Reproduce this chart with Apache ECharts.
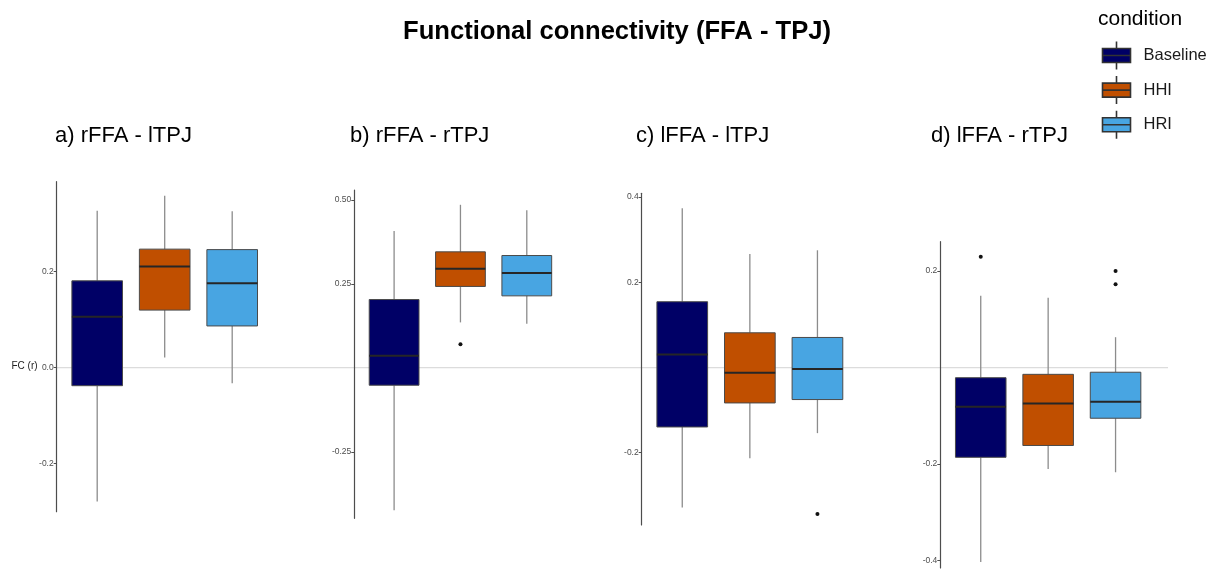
<!DOCTYPE html>
<html>
<head>
<meta charset="utf-8">
<script src="https://cdn.jsdelivr.net/npm/echarts@6/dist/echarts.min.js"></script>
<style>html,body{margin:0;padding:0;background:#fff}#c{width:1218px;height:571px}</style>
</head>
<body>
<div id="c"></div>
<script>
// ---- data ----
const conditions = ['Baseline', 'HHI', 'HRI'];
const panelTitles = ['a) rFFA - lTPJ', 'b) rFFA - rTPJ', 'c) lFFA - lTPJ', 'd) lFFA - rTPJ'];
// each row: [lower whisker, Q1, median, Q3, upper whisker]
const rFFA_lTPJ = [[-0.279, -0.0375, 0.106, 0.181, 0.327], [0.021, 0.120, 0.211, 0.247, 0.358], [-0.0325, 0.087, 0.176, 0.246, 0.326]];
const rFFA_rTPJ = [[-0.423, -0.051, 0.037, 0.204, 0.408], [0.136, 0.243, 0.296, 0.346, 0.486], [0.132, 0.215, 0.283, 0.335, 0.470]];
const lFFA_lTPJ = [[-0.330, -0.1405, 0.030, 0.154, 0.374], [-0.214, -0.084, -0.013, 0.081, 0.266], [-0.155, -0.076, -0.004, 0.070, 0.275]];
const lFFA_rTPJ = [[-0.403, -0.186, -0.081, -0.021, 0.149], [-0.210, -0.1615, -0.0745, -0.014, 0.145], [-0.217, -0.105, -0.071, -0.0096, 0.063]];
const out_rFFA_lTPJ = [[], [], []];
const out_rFFA_rTPJ = [[], [0.071], []];
const out_lFFA_lTPJ = [[], [], [-0.345]];
const out_lFFA_rTPJ = [[0.230], [], [0.200, 0.173]];
const ticks_a = [-0.2, 0.0, 0.2];
const ticks_b = [-0.25, 0.25, 0.50];
const ticks_c = [-0.2, 0.2, 0.4];
const ticks_d = [-0.4, -0.2, 0.2];
const zeroLine = [[0, 0], [1, 0]];

const panelStats = [rFFA_lTPJ, rFFA_rTPJ, lFFA_lTPJ, lFFA_rTPJ];
const panelOutliers = [out_rFFA_lTPJ, out_rFFA_rTPJ, out_lFFA_lTPJ, out_lFFA_rTPJ];
const panelTicks = [ticks_a, ticks_b, ticks_c, ticks_d];
const panelDecimals = [1, 2, 1, 1];

// ---- styles / layout ----
const colors = ['#000066', '#C04F00', '#48A5E2'];
const FONT = 'Liberation Sans, Arial, Helvetica, sans-serif';
const grids = [
  {left: 56.7, width: 216.0, top: 181.7, height: 330.0, min: -0.300, max: 0.3875},
  {left: 354.3, width: 212.3, top: 190.0, height: 328.3, min: -0.447, max: 0.530},
  {left: 641.7, width: 216.3, top: 193.3, height: 331.7, min: -0.371, max: 0.409},
  {left: 940.3, width: 215.7, top: 241.7, height: 326.3, min: -0.4155, max: 0.261}
];
const titleLefts = [55, 350, 636, 931];

function makeRender(outliers) {
  return function (params, api) {
    const x = api.value(0);
    const lo = api.coord([x, api.value(1)]);
    const q1 = api.coord([x, api.value(2)]);
    const med = api.coord([x, api.value(3)]);
    const q3 = api.coord([x, api.value(4)]);
    const hi = api.coord([x, api.value(5)]);
    const w = api.size([0.75, 0])[0];
    const cx = q1[0];
    const wh = {stroke: '#8c8c8c', lineWidth: 1.3};
    const children = [
      {type: 'line', shape: {x1: cx, y1: hi[1], x2: cx, y2: q3[1]}, style: wh},
      {type: 'line', shape: {x1: cx, y1: q1[1], x2: cx, y2: lo[1]}, style: wh},
      {type: 'rect', shape: {x: cx - w / 2, y: q3[1], width: w, height: q1[1] - q3[1]},
        style: {fill: api.visual('color'), stroke: '#4a4a4a', lineWidth: 1}},
      {type: 'line', shape: {x1: cx - w / 2, y1: med[1], x2: cx + w / 2, y2: med[1]},
        style: {stroke: '#262626', lineWidth: 2}}
    ];
    outliers.forEach(function (v) {
      const p = api.coord([x, v]);
      children.push({type: 'circle', shape: {cx: p[0], cy: p[1], r: 2}, style: {fill: '#111'}});
    });
    return {type: 'group', children: children};
  };
}

const gridOpt = [], xAxes = [], yAxes = [], series = [];
grids.forEach(function (g, p) {
  gridOpt.push({left: g.left, top: g.top, width: g.width, height: g.height});
  xAxes.push({type: 'value', gridIndex: p, min: 0.4, max: 3.6, show: false});
  const ticks = panelTicks[p];
  const dec = panelDecimals[p];
  yAxes.push({
    type: 'value', gridIndex: p, min: g.min, max: g.max, z: 3,
    axisLine: {show: true, onZero: false, lineStyle: {color: '#4d4d4d', width: 1.2}},
    axisTick: {show: true, customValues: ticks, length: 3, lineStyle: {color: '#4d4d4d', width: 1}},
    axisLabel: {customValues: ticks, formatter: function (v) { return Number(v).toFixed(dec); },
      fontSize: 8.5, color: '#4d4d4d', margin: 3, fontFamily: FONT},
    splitLine: {show: false}
  });
  conditions.forEach(function (c, ci) {
    const s = panelStats[p][ci];
    series.push({
      name: c, type: 'custom', xAxisIndex: p, yAxisIndex: p, z: 2,
      itemStyle: {color: colors[ci], borderColor: '#333', borderWidth: 1},
      encode: {x: 0, y: [1, 2, 3, 4, 5]},
      data: [[ci + 1, s[0], s[1], s[2], s[3], s[4]]],
      renderItem: makeRender(panelOutliers[p][ci])
    });
  });
});
// full-width reference line at zero (shares panel a's y scale)
gridOpt.push({left: 56.7, top: grids[0].top, width: 1111.3, height: grids[0].height});
xAxes.push({type: 'value', gridIndex: 4, min: 0, max: 1, show: false});
yAxes.push({type: 'value', gridIndex: 4, min: grids[0].min, max: grids[0].max, show: false});
series.push({type: 'line', xAxisIndex: 4, yAxisIndex: 4, data: zeroLine, symbol: 'none', silent: true, z: 1,
  lineStyle: {color: '#dcdcdc', width: 1.3}});

const titles = [
  {text: 'Functional connectivity (FFA - TPJ)', left: 403, top: 19, padding: 0,
    textStyle: {fontSize: 25.6, fontWeight: 'bold', color: '#000', fontFamily: FONT}},
  {text: 'condition', left: 1098, top: 9, padding: 0,
    textStyle: {fontSize: 21, fontWeight: 'normal', color: '#000', fontFamily: FONT}},
  {text: 'FC (r)', left: 11.5, top: 361, padding: 0,
    textStyle: {fontSize: 10, fontWeight: 'normal', color: '#222', fontFamily: FONT}}
];
panelTitles.forEach(function (t, i) {
  titles.push({text: t, left: titleLefts[i], top: 125, padding: 0,
    textStyle: {fontSize: 22, fontWeight: 'normal', color: '#000', fontFamily: FONT}});
});

const iconPath = 'path://M0,7L28,7L28,21L0,21Z M0,14L28,14 M14,0L14,7 M14,21L14,28';

const chart = echarts.init(document.getElementById('c'), null, {renderer: 'canvas'});
chart.setOption({
  animation: false,
  backgroundColor: '#fff',
  title: titles,
  legend: {
    orient: 'vertical', left: 1101.7, top: 40.7, padding: 0,
    itemWidth: 28, itemHeight: 28, itemGap: 5,
    data: conditions.map(function (n) { return {name: n, icon: iconPath}; }),
    itemStyle: {borderColor: '#333', borderWidth: 1.6},
    textStyle: {fontSize: 16.5, color: '#1a1a1a', fontFamily: FONT, padding: [0, 0, 0, 8]}
  },
  grid: gridOpt,
  xAxis: xAxes,
  yAxis: yAxes,
  series: series
});
</script>
</body>
</html>
